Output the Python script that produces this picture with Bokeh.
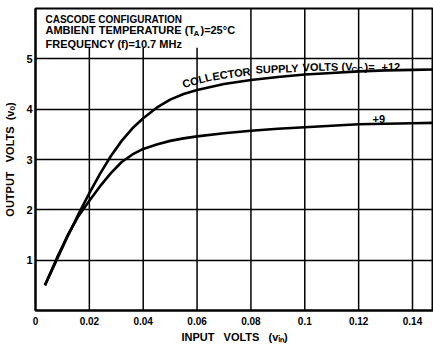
import math
from bokeh.plotting import figure
from bokeh.models import FixedTicker, Range1d
from bokeh.core.properties import value
from bokeh.embed import file_html
from bokeh.resources import INLINE

# ---------------- data ----------------
vin_12 = [0.0035, 0.008, 0.012, 0.016, 0.020, 0.024, 0.028, 0.032, 0.036, 0.040,
          0.045, 0.050, 0.055, 0.060, 0.070, 0.080, 0.090, 0.100, 0.110, 0.120,
          0.130, 0.140, 0.150]
vout_12 = [0.50, 1.02, 1.48, 1.92, 2.33, 2.72, 3.07, 3.37, 3.62, 3.82,
           4.03, 4.19, 4.30, 4.38, 4.50, 4.58, 4.64, 4.69, 4.72, 4.75,
           4.77, 4.78, 4.79]
vin_9 = [0.0035, 0.008, 0.012, 0.016, 0.020, 0.024, 0.028, 0.032, 0.036, 0.040,
         0.045, 0.050, 0.055, 0.060, 0.070, 0.080, 0.090, 0.100, 0.110, 0.120,
         0.130, 0.140, 0.150]
vout_9 = [0.50, 1.05, 1.50, 1.88, 2.18, 2.47, 2.73, 2.95, 3.10, 3.21,
          3.30, 3.37, 3.42, 3.46, 3.52, 3.57, 3.61, 3.64, 3.67, 3.70,
          3.71, 3.72, 3.73]

x_ticks = [0, 0.02, 0.04, 0.06, 0.08, 0.10, 0.12, 0.14]
x_tick_labels = ["0", "0.02", "0.04", "0.06", "0.08", "0.1", "0.12", "0.14"]
y_ticks = [1, 2, 3, 4, 5]
y_tick_labels = ["1", "2", "3", "4", "5"]

X_MAX = 0.1478
Y_MAX = 6.0
BOX_BOTTOM = 5.22     # bottom of the header text box (grid lines stop there)
BOX_RIGHT = 0.07      # header box covers grid lines left of this

FONT = "Liberation Sans"
NB = "\u00a0"

# ---------------- layout ----------------
W, H = 433, 345
FR_LEFT, FR_TOP, FR_BOTTOM = 35, 8, 317
XS = (W - FR_LEFT) / X_MAX
YS = (FR_BOTTOM - FR_TOP) / Y_MAX

def rx(px):
    return (px - FR_LEFT) / XS

def ry(py):
    return (FR_BOTTOM - py) / YS

p = figure(width=W, height=H, x_range=Range1d(0, X_MAX), y_range=Range1d(0, Y_MAX),
           output_backend="svg", toolbar_location=None,
           min_border_left=FR_LEFT, min_border_right=0,
           min_border_top=FR_TOP, min_border_bottom=H - FR_BOTTOM)
p.outline_line_color = "black"
p.outline_line_width = 2
p.background_fill_color = "white"
p.border_fill_color = "white"

# grid
p.xgrid.visible = False
p.ygrid.ticker = FixedTicker(ticks=y_ticks)
p.ygrid.grid_line_color = "black"
p.ygrid.grid_line_width = 1.5
p.ygrid.grid_line_alpha = 1.0
grid_x = [t for t in x_ticks if t > 0]
p.multi_line(xs=[[t, t] for t in grid_x],
             ys=[[0, BOX_BOTTOM if t < BOX_RIGHT else Y_MAX] for t in grid_x],
             line_color="black", line_width=1.5)

# axes
for ax in (p.xaxis, p.yaxis):
    ax.axis_line_color = "black"
    ax.axis_line_width = 2
    ax.major_tick_out = 0
    ax.major_tick_in = 0
    ax.minor_tick_out = 0
    ax.minor_tick_in = 0
    ax.major_label_text_font = FONT
    ax.major_label_text_font_style = "bold"
    ax.major_label_text_color = "black"
    ax.axis_label_text_font = FONT
    ax.axis_label_text_font_style = "bold"
    ax.axis_label_text_color = "black"
    ax.axis_label_text_font_size = "11px"

p.xaxis.ticker = FixedTicker(ticks=x_ticks)
p.xaxis.major_label_overrides = dict(zip(x_ticks, x_tick_labels))
p.xaxis.major_label_text_font_size = "10px"
p.xaxis.major_label_standoff = 6
p.xaxis.axis_label = "INPUT" + NB * 3 + "VOLTS" + NB * 3 + "(v\u1d62\u2099)"
p.xaxis.axis_label_standoff = 3
p.yaxis.ticker = FixedTicker(ticks=y_ticks)
p.yaxis.major_label_overrides = dict(zip(y_ticks, y_tick_labels))
p.yaxis.major_label_text_font_size = "11px"
p.yaxis.major_label_standoff = 3
p.yaxis.axis_label = "OUTPUT" + NB * 3 + "VOLTS" + NB * 2 + "(v\u2092)"
p.yaxis.axis_label_standoff = 7

# curves
p.line(vin_12, vout_12, line_color="black", line_width=2.6, line_join="round")
p.line(vin_9, vout_9, line_color="black", line_width=2.6, line_join="round")


def txt(px, py, s, size="11px", angle=0.0):
    p.text(x=[rx(px)], y=[ry(py)], text=[s], angle=angle,
           text_font=value(FONT), text_font_style="bold", text_font_size=size,
           text_color="black", text_align="left", text_baseline="alphabetic")

# header box text
txt(45, 19.5, "CASCODE CONFIGURATION", size="10px")
txt(45, 30.5, "AMBIENT TEMPERATURE (T")
txt(193, 33.5, "A", size="8px")
txt(200, 30.5, ")=")
txt(210, 30.5, "25°C")
txt(45, 44.5, "FREQUENCY (f)=10.7 MHz")

# curve labels
txt(182, 85.5, "COLL", angle=math.radians(15))
txt(212, 77.5, "ECTOR", angle=math.radians(8))
txt(255, 70.5, "SUPPLY", angle=math.radians(2))
txt(302, 68, "VOLTS (V", angle=math.radians(1))
txt(351, 70, "CC", size="8px")
txt(364, 67.5, ")=")
txt(381, 67.5, "+12")
txt(372, 121, "+9")

open("out.html", "w").write(file_html(p, INLINE))
